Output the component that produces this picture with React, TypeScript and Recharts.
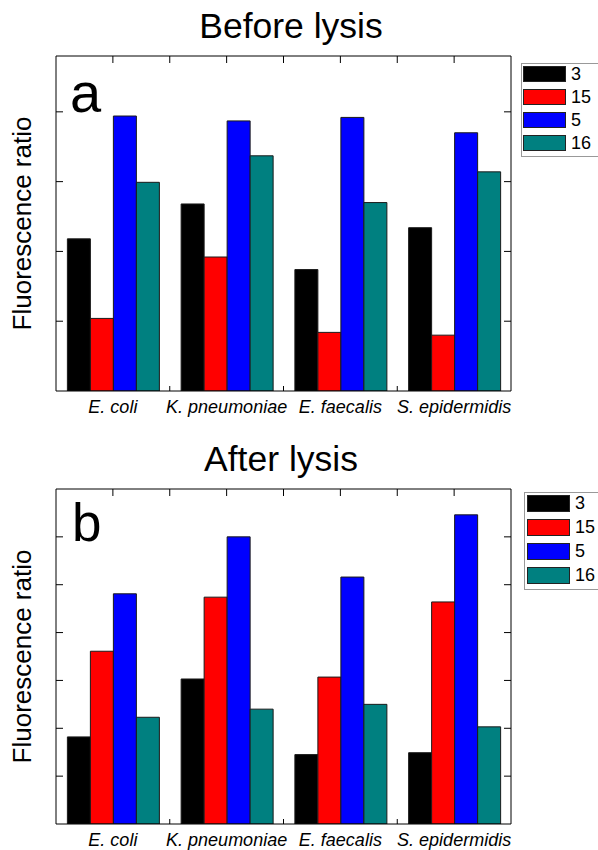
import React from 'react';
import { BarChart, Bar, XAxis, YAxis, Legend } from 'recharts';

const FONT = '"Liberation Sans", Arial, Helvetica, sans-serif';

// ---- data ----
const categories = ['E. coli', 'K. pneumoniae', 'E. faecalis', 'S. epidermidis'];
const seriesNames = ['3', '15', '5', '16'];
const seriesColors = ['#000000', '#ff0000', '#0000ff', '#008080'];

const before3 = [2.18, 2.68, 1.74, 2.34];
const before15 = [1.04, 1.92, 0.84, 0.8];
const before5 = [3.94, 3.87, 3.92, 3.7];
const before16 = [2.99, 3.37, 2.7, 3.14];

const after3 = [1.82, 3.03, 1.45, 1.49];
const after15 = [3.61, 4.74, 3.07, 4.64];
const after5 = [4.81, 6.0, 5.16, 6.46];
const after16 = [2.23, 2.4, 2.5, 2.03];

const beforeYTicks = [1, 2, 3, 4];
const afterYTicks = [1, 2, 3, 4, 5, 6];
const beforeYMax = 4.8;
const afterYMax = 7;

function buildRows(values: number[][]) {
  return categories.map((name, i) => {
    const row: Record<string, any> = { name };
    seriesNames.forEach((s, j) => {
      row['s' + s] = values[j][i];
    });
    return row;
  });
}

const beforeRows = buildRows([before3, before15, before5, before16]);
const afterRows = buildRows([after3, after15, after5, after16]);

// layout
const W = 598;
const H = 417;
const M_LEFT = 56;
const M_RIGHT = 87;
const M_TOP = 56;
const M_BOTTOM = 26;
const PLOT_W = W - M_LEFT - M_RIGHT;
const PLOT_H = H - M_TOP - M_BOTTOM;

const NoLabel = () => <g />;

const BottomTick = (props: any) => {
  const { x, y, payload } = props;
  return (
    <text
      x={x}
      y={Number(y) + 22}
      textAnchor="middle"
      fontSize={18}
      fontStyle="italic"
      fontFamily={FONT}
      fill="#000"
    >
      {payload.value}
    </text>
  );
};

// inward frame ticks on the category axis edges (category centres on top, boundaries on both)
function FrameTicks() {
  const n = categories.length;
  const band = PLOT_W / n;
  const top: number[] = [];
  for (let k = 1; k < 2 * n; k++) top.push(M_LEFT + (k * band) / 2);
  const bottom: number[] = [];
  for (let k = 1; k < n; k++) bottom.push(M_LEFT + k * band);
  const yb = M_TOP + PLOT_H;
  return (
    <g stroke="#000" strokeWidth={1}>
      {top.map((x, i) => (
        <line key={'t' + i} x1={x} x2={x} y1={M_TOP} y2={M_TOP + 7} />
      ))}
      {bottom.map((x, i) => (
        <line key={'b' + i} x1={x} x2={x} y1={yb} y2={yb - 5} />
      ))}
    </g>
  );
}

const makeLegend = (rowH: number, rectH: number, padLeft: number) => (props: any) => {
  const payload = [...(props.payload || [])].sort(
    (a: any, b: any) => seriesNames.indexOf(String(a.value)) - seriesNames.indexOf(String(b.value))
  );
  return (
    <div
      style={{
        border: '1px solid #999',
        background: '#fff',
        width: 100,
        paddingLeft: padLeft,
        fontFamily: FONT,
        boxSizing: 'content-box',
      }}
    >
      {payload.map((p: any, i: number) => (
        <div key={i} style={{ display: 'flex', alignItems: 'flex-start', height: rowH }}>
          <div
            style={{
              marginTop: 2,
              width: 41,
              height: rectH - 2,
              background: p.color,
              border: '1px solid #222',
            }}
          />
          <span style={{ marginLeft: 5, fontSize: 18, lineHeight: rectH + 4 + 'px', color: '#000' }}>
            {p.value}
          </span>
        </div>
      ))}
    </div>
  );
};

type PanelProps = {
  top: number;
  title: string;
  titleX: number;
  letter: string;
  letterX: number;
  letterY: number;
  letterSize: number;
  rows: any[];
  yMax: number;
  yTicks: number[];
  legendLeft: number;
  legendTop: number;
  legendRowH: number;
  legendRectH: number;
  legendPad: number;
};

function Panel(p: PanelProps) {
  return (
    <div style={{ position: 'absolute', left: 0, top: p.top, width: W, height: H, overflow: 'hidden' }}>
      <BarChart
        width={W}
        height={H}
        data={p.rows}
        margin={{ top: 0, right: M_RIGHT - 1, bottom: 0, left: 0 }}
        barCategoryGap="10%"
        barGap={0}
      >
        <XAxis
          xAxisId="b2"
          dataKey="name"
          type="category"
          orientation="bottom"
          interval={0}
          axisLine={{ stroke: '#000', strokeWidth: 1 }}
          tickLine={false}
          tickSize={0}
          tickMargin={0}
          height={M_BOTTOM}
          tick={BottomTick}
        />
        <XAxis
          xAxisId="t"
          dataKey="name"
          type="category"
          orientation="top"
          interval={0}
          tick={NoLabel}
          tickLine={false}
          tickSize={0}
          tickMargin={0}
          height={M_TOP}
          axisLine={{ stroke: '#000', strokeWidth: 1 }}
        />
        <YAxis
          yAxisId="l"
          orientation="left"
          type="number"
          domain={[0, p.yMax]}
          allowDataOverflow
          ticks={p.yTicks}
          tick={NoLabel}
          tickSize={-7}
          width={M_LEFT}
          axisLine={{ stroke: '#000', strokeWidth: 1 }}
          tickLine={{ stroke: '#000', strokeWidth: 1 }}
        />
        <YAxis
          yAxisId="r"
          orientation="right"
          type="number"
          domain={[0, p.yMax]}
          allowDataOverflow
          ticks={p.yTicks}
          tick={NoLabel}
          tickSize={-7}
          width={1}
          axisLine={{ stroke: '#000', strokeWidth: 1 }}
          tickLine={{ stroke: '#000', strokeWidth: 1 }}
        />
        {seriesNames.map((s, j) => (
          <Bar
            key={s}
            name={s}
            dataKey={'s' + s}
            xAxisId="b2"
            yAxisId="l"
            fill={seriesColors[j]}
            stroke="#1a1a1a"
            strokeWidth={1}
            isAnimationActive={false}
          />
        ))}
        <Legend
          layout="vertical"
          align="center"
          verticalAlign="middle"
          itemSorter={null as any}
          content={makeLegend(p.legendRowH, p.legendRectH, p.legendPad)}
          wrapperStyle={{ position: 'absolute', left: p.legendLeft, top: p.legendTop, width: 110 }}
        />
      </BarChart>
      <svg
        width={W}
        height={H}
        style={{ position: 'absolute', left: 0, top: 0, pointerEvents: 'none' }}
        fontFamily={FONT}
      >
        <FrameTicks />
        <text x={p.titleX} y={38} textAnchor="middle" fontSize={35.5} fill="#000">
          {p.title}
        </text>
        <text x={p.letterX} y={p.letterY} fontSize={p.letterSize} fill="#000">
          {p.letter}
        </text>
        <text
          x={31}
          y={223.5}
          transform="rotate(-90 31 223.5)"
          textAnchor="middle"
          fontSize={26}
          fill="#000"
        >
          Fluorescence ratio
        </text>
      </svg>
    </div>
  );
}

export default function App() {
  return (
    <div style={{ position: 'absolute', left: 0, top: 0, width: 598, height: 850, background: '#fff' }}>
      <Panel
        top={0}
        title="Before lysis"
        titleX={291}
        letter="a"
        letterX={70}
        letterY={112}
        letterSize={56}
        rows={beforeRows}
        yMax={beforeYMax}
        yTicks={beforeYTicks}
        legendLeft={521}
        legendTop={63}
        legendRowH={23}
        legendRectH={16}
        legendPad={1}
      />
      <Panel
        top={433}
        title="After lysis"
        titleX={281}
        letter="b"
        letterX={72}
        letterY={108}
        letterSize={53}
        rows={afterRows}
        yMax={afterYMax}
        yTicks={afterYTicks}
        legendLeft={524}
        legendTop={59}
        legendRowH={24}
        legendRectH={17}
        legendPad={2}
      />
    </div>
  );
}
